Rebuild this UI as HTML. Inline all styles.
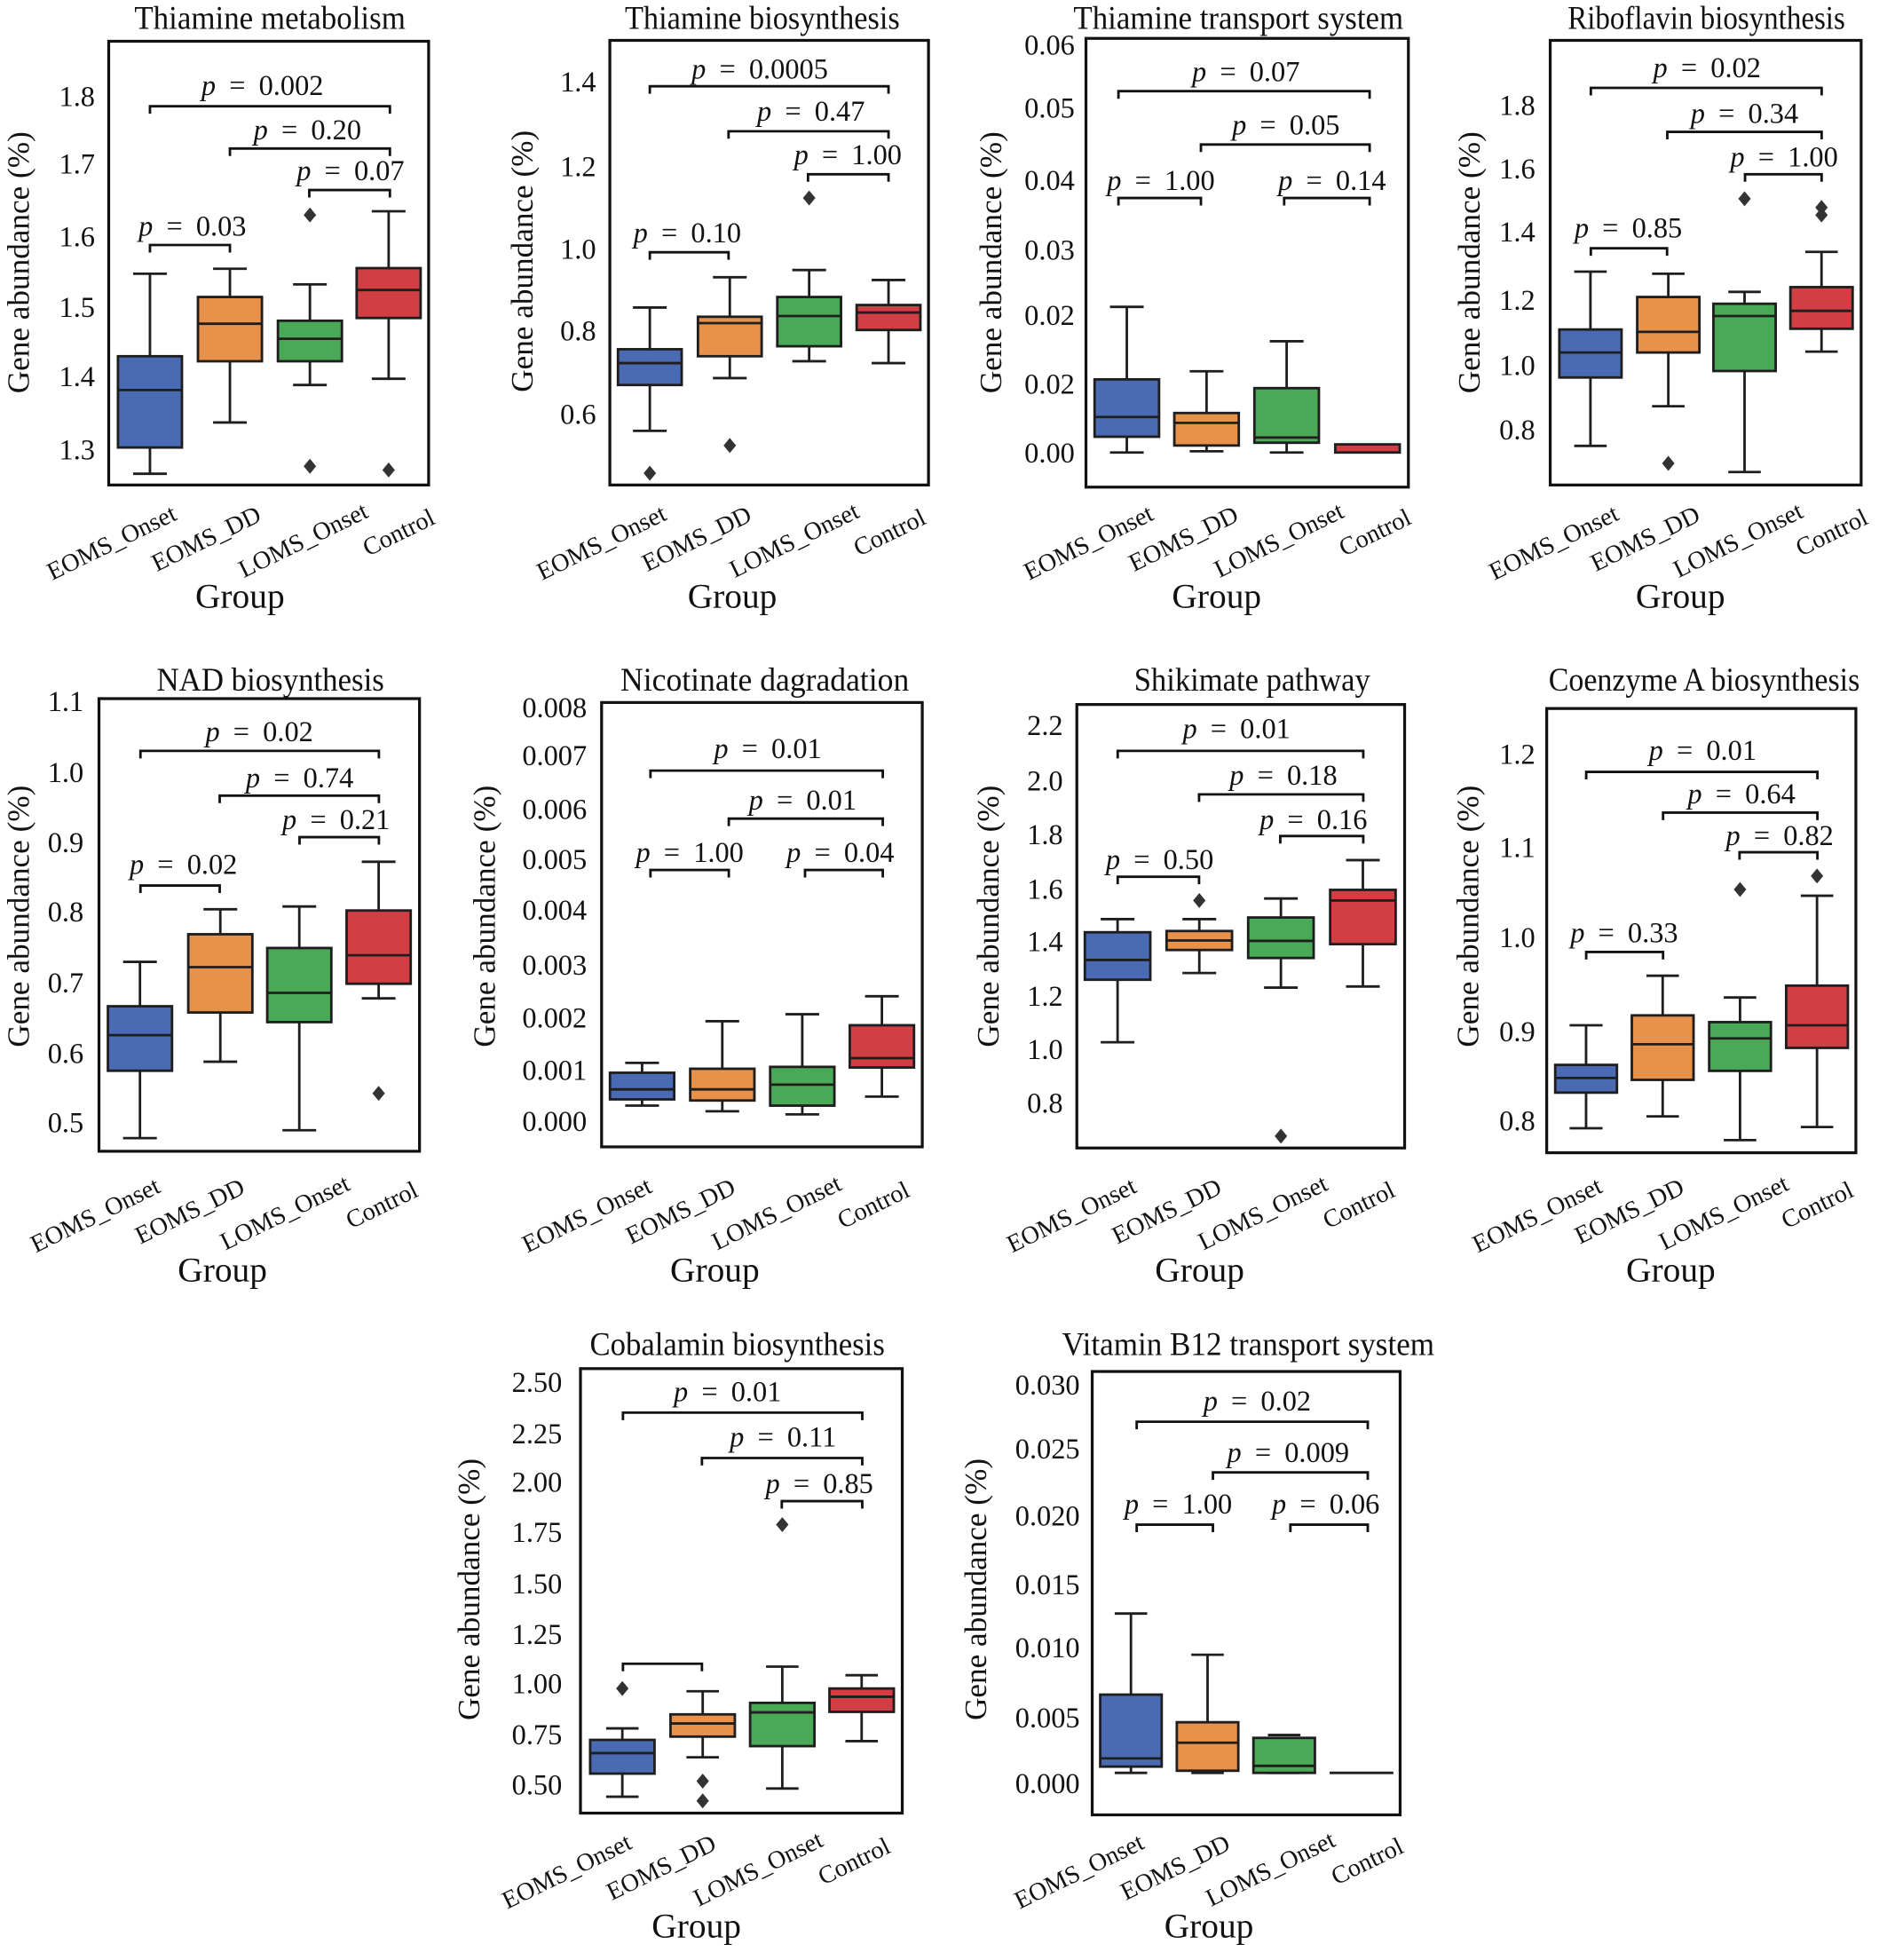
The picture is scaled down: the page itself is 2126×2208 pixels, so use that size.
<!DOCTYPE html>
<html>
<head>
<meta charset="utf-8">
<style>
html,body{margin:0;padding:0;background:#fff;}
svg{display:block;}
text{font-family:"Liberation Serif","Times New Roman",serif;fill:#111;}
.t{font-size:26px;text-anchor:middle;}
.tk{font-size:23px;text-anchor:end;}
.pv{font-size:23px;text-anchor:middle;word-spacing:5px;}
.xl{font-size:20px;text-anchor:middle;}
.yl{font-size:25px;text-anchor:middle;}
.gr{font-size:28px;text-anchor:middle;}
.fr{fill:none;stroke:#111;stroke-width:2.3;}
.ln{fill:none;stroke:#1e1e1e;stroke-width:2;}
.bk{fill:none;stroke:#111;stroke-width:2;}
.bx{stroke:#1e1e1e;stroke-width:2;}
.B{fill:#4a6ab3;}.O{fill:#e8914a;}.G{fill:#49a956;}.R{fill:#d13f45;}
.od{fill:#333;}
</style>
</head>
<body>
<svg width="2126" height="2208" viewBox="0 0 1510 1568" preserveAspectRatio="none" xmlns="http://www.w3.org/2000/svg">
<rect x="0" y="0" width="1510" height="1568" fill="#fff"/>

<!-- ================= PANEL 1 ================= -->
<text class="t" x="216" y="23" textLength="217" lengthAdjust="spacingAndGlyphs">Thiamine metabolism</text>
<rect class="fr" x="87" y="33" width="256" height="355"/>
<text class="tk" x="76" y="85">1.8</text>
<text class="tk" x="76" y="139">1.7</text>
<text class="tk" x="76" y="197">1.6</text>
<text class="tk" x="76" y="253.5">1.5</text>
<text class="tk" x="76" y="309">1.4</text>
<text class="tk" x="76" y="367.6">1.3</text>
<text class="yl" transform="translate(23,210) rotate(-90)">Gene abundance (%)</text>
<path class="ln" d="M120 219V285M120 358V379M106.5 219H133.5M106.5 379H133.5"/>
<rect class="bx B" x="94.4" y="285" width="51.2" height="73"/>
<path class="ln" d="M94.4 312H145.6"/>
<path class="ln" d="M184 215V237.6M184 289V338M170.5 215H197.5M170.5 338H197.5"/>
<rect class="bx O" x="158.4" y="237.6" width="51.2" height="51.4"/>
<path class="ln" d="M158.4 259H209.6"/>
<path class="ln" d="M248 227.5V256.6M248 289V308M234.5 227.5H261.5M234.5 308H261.5"/>
<rect class="bx G" x="222.4" y="256.6" width="51.2" height="32.4"/>
<path class="ln" d="M222.4 271H273.6"/>
<path class="ln" d="M311 169V214.5M311 254.4V303M297.5 169H324.5M297.5 303H324.5"/>
<rect class="bx R" x="285.4" y="214.5" width="51.2" height="39.9"/>
<path class="ln" d="M285.4 232H336.6"/>
<path class="od" d="M248 166l5 6-5 6-5-6zM248 367l5 6-5 6-5-6zM311 370l5 6-5 6-5-6z"/>
<path class="bk" d="M120 91V85H312V91M184 124.8V118.8H312V124.8M247.5 158V152H312V158M120 202V196H184V202"/>
<text class="pv" x="210" y="76"><tspan font-style="italic">p</tspan> = 0.002</text>
<text class="pv" x="246" y="111.5"><tspan font-style="italic">p</tspan> = 0.20</text>
<text class="pv" x="280.5" y="144"><tspan font-style="italic">p</tspan> = 0.07</text>
<text class="pv" x="154" y="188.5"><tspan font-style="italic">p</tspan> = 0.03</text>
<text class="xl" transform="translate(89.3,434) rotate(-26)" y="6.5">EOMS_Onset</text>
<text class="xl" transform="translate(165,431) rotate(-26)" y="6.5">EOMS_DD</text>
<text class="xl" transform="translate(242.6,432) rotate(-26)" y="6.5">LOMS_Onset</text>
<text class="xl" transform="translate(319,426) rotate(-26)" y="6.5">Control</text>
<text class="gr" x="192" y="486">Group</text>

<!-- ================= PANEL 2 ================= -->
<text class="t" x="610" y="23" textLength="220" lengthAdjust="spacingAndGlyphs">Thiamine biosynthesis</text>
<rect class="fr" x="488" y="32.3" width="255" height="355.7"/>
<text class="tk" x="477" y="73">1.4</text>
<text class="tk" x="477" y="141">1.2</text>
<text class="tk" x="477" y="207">1.0</text>
<text class="tk" x="477" y="272.5">0.8</text>
<text class="tk" x="477" y="339">0.6</text>
<text class="yl" transform="translate(426,209) rotate(-90)">Gene abundance (%)</text>
<path class="ln" d="M520 246V279.4M520 308V344.7M506.5 246H533.5M506.5 344.7H533.5"/>
<rect class="bx B" x="494.5" y="279.4" width="51" height="28.6"/>
<path class="ln" d="M494.5 290.5H545.5"/>
<path class="ln" d="M584 221.8V253.4M584 285V302.5M570.5 221.8H597.5M570.5 302.5H597.5"/>
<rect class="bx O" x="558.5" y="253.4" width="51" height="31.6"/>
<path class="ln" d="M558.5 258.5H609.5"/>
<path class="ln" d="M647.5 216V237.6M647.5 277V289M634 216H661M634 289H661"/>
<rect class="bx G" x="622" y="237.6" width="51" height="39.4"/>
<path class="ln" d="M622 252.8H673"/>
<path class="ln" d="M711 224V244M711 264V290.5M697.5 224H724.5M697.5 290.5H724.5"/>
<rect class="bx R" x="685.5" y="244" width="51" height="20"/>
<path class="ln" d="M685.5 250H736.5"/>
<path class="od" d="M520 372.6l5 6-5 6-5-6zM584 350.4l5 6-5 6-5-6zM647.5 152.4l5 6-5 6-5-6z"/>
<path class="bk" d="M520 75V69H711V75M583 111V105H711V111M646.6 145.4V139.4H711V145.4M520 207.8V201.8H583V207.8"/>
<text class="pv" x="608" y="62.7"><tspan font-style="italic">p</tspan> = 0.0005</text>
<text class="pv" x="649" y="96.6"><tspan font-style="italic">p</tspan> = 0.47</text>
<text class="pv" x="678.5" y="131.5"><tspan font-style="italic">p</tspan> = 1.00</text>
<text class="pv" x="550" y="194"><tspan font-style="italic">p</tspan> = 0.10</text>
<text class="xl" transform="translate(481.3,434) rotate(-26)" y="6.5">EOMS_Onset</text>
<text class="xl" transform="translate(557.5,431) rotate(-26)" y="6.5">EOMS_DD</text>
<text class="xl" transform="translate(635.5,432) rotate(-26)" y="6.5">LOMS_Onset</text>
<text class="xl" transform="translate(711.8,426) rotate(-26)" y="6.5">Control</text>
<text class="gr" x="586" y="486">Group</text>

<!-- ================= PANEL 3 ================= -->
<text class="t" x="991" y="23" textLength="264" lengthAdjust="spacingAndGlyphs">Thiamine transport system</text>
<rect class="fr" x="869" y="30.7" width="258" height="359"/>
<text class="tk" x="860" y="43.8">0.06</text>
<text class="tk" x="860" y="94">0.05</text>
<text class="tk" x="860" y="152">0.04</text>
<text class="tk" x="860" y="207.6">0.03</text>
<text class="tk" x="860" y="260">0.02</text>
<text class="tk" x="860" y="315">0.02</text>
<text class="tk" x="860" y="370">0.00</text>
<text class="yl" transform="translate(801,210) rotate(-90)">Gene abundance (%)</text>
<path class="ln" d="M901.7 245.5V303.5M901.7 349.4V362M888.2 245.5H915.2M888.2 362H915.2"/>
<rect class="bx B" x="875.9" y="303.5" width="51.6" height="45.9"/>
<path class="ln" d="M875.9 333.6H927.5"/>
<path class="ln" d="M965.5 297V330.4M965.5 356.4V361M952 297H979M952 361H979"/>
<rect class="bx O" x="939.7" y="330.4" width="51.6" height="26"/>
<path class="ln" d="M939.7 338.3H991.3"/>
<path class="ln" d="M1029.6 273V310.5M1029.6 354.2V362M1016.1 273H1043.1M1016.1 362H1043.1"/>
<rect class="bx G" x="1003.8" y="310.5" width="51.6" height="43.7"/>
<path class="ln" d="M1003.8 350H1055.4"/>
<rect class="bx R" x="1068.5" y="355.5" width="51.6" height="6.5"/>
<path class="bk" d="M895 79V72.9H1096V79M961 121.6V115.6H1096V121.6M895 164.4V158.4H961V164.4M1027.6 164.4V158.4H1096V164.4"/>
<text class="pv" x="997" y="65"><tspan font-style="italic">p</tspan> = 0.07</text>
<text class="pv" x="1029" y="107.7"><tspan font-style="italic">p</tspan> = 0.05</text>
<text class="pv" x="929" y="152"><tspan font-style="italic">p</tspan> = 1.00</text>
<text class="pv" x="1066" y="152"><tspan font-style="italic">p</tspan> = 0.14</text>
<text class="xl" transform="translate(871,434) rotate(-26)" y="6.5">EOMS_Onset</text>
<text class="xl" transform="translate(947,431) rotate(-26)" y="6.5">EOMS_DD</text>
<text class="xl" transform="translate(1023.4,432) rotate(-26)" y="6.5">LOMS_Onset</text>
<text class="xl" transform="translate(1100.2,426) rotate(-26)" y="6.5">Control</text>
<text class="gr" x="973.6" y="486">Group</text>

<!-- ================= PANEL 4 ================= -->
<text class="t" x="1365.5" y="23" textLength="222" lengthAdjust="spacingAndGlyphs">Riboflavin biosynthesis</text>
<rect class="fr" x="1240.5" y="32.3" width="248.8" height="355.7"/>
<text class="tk" x="1228.5" y="92">1.8</text>
<text class="tk" x="1228.5" y="142.6">1.6</text>
<text class="tk" x="1228.5" y="193.3">1.4</text>
<text class="tk" x="1228.5" y="247.8">1.2</text>
<text class="tk" x="1228.5" y="300">1.0</text>
<text class="tk" x="1228.5" y="351.7">0.8</text>
<text class="yl" transform="translate(1184,210) rotate(-90)">Gene abundance (%)</text>
<path class="ln" d="M1272.7 217.3V263.6M1272.7 302V356.7M1259.7 217.3H1285.7M1259.7 356.7H1285.7"/>
<rect class="bx B" x="1247.8" y="263.6" width="49.8" height="38.4"/>
<path class="ln" d="M1247.8 282H1297.6"/>
<path class="ln" d="M1335 219V237.6M1335 282V325M1322 219H1348M1322 325H1348"/>
<rect class="bx O" x="1310.1" y="237.6" width="49.8" height="44.4"/>
<path class="ln" d="M1310.1 265.5H1359.9"/>
<path class="ln" d="M1396 233.5V243M1396 296.8V377.6M1383 233.5H1409M1383 377.6H1409"/>
<rect class="bx G" x="1371.1" y="243" width="49.8" height="53.8"/>
<path class="ln" d="M1371.1 252.8H1420.9"/>
<path class="ln" d="M1457.6 201.5V229.7M1457.6 263V281.3M1444.6 201.5H1470.6M1444.6 281.3H1470.6"/>
<rect class="bx R" x="1432.7" y="229.7" width="49.8" height="33.3"/>
<path class="ln" d="M1432.7 248.7H1482.5"/>
<path class="od" d="M1335 364.7l5 6-5 6-5-6zM1396 153l5 6-5 6-5-6zM1457.6 160l5 6-5 6-5-6zM1457.6 166l5 6-5 6-5-6z"/>
<path class="bk" d="M1273 76.3V70.3H1457.7V76.3M1334.2 111.5V105.5H1457.7V111.5M1396.4 145.4V139.4H1457.7V145.4M1273 204.6V198.6H1334V204.6"/>
<text class="pv" x="1366" y="61.8"><tspan font-style="italic">p</tspan> = 0.02</text>
<text class="pv" x="1396" y="98.2"><tspan font-style="italic">p</tspan> = 0.34</text>
<text class="pv" x="1427.7" y="133"><tspan font-style="italic">p</tspan> = 1.00</text>
<text class="pv" x="1303" y="190"><tspan font-style="italic">p</tspan> = 0.85</text>
<text class="xl" transform="translate(1243.3,434) rotate(-26)" y="6.5">EOMS_Onset</text>
<text class="xl" transform="translate(1316.5,431) rotate(-26)" y="6.5">EOMS_DD</text>
<text class="xl" transform="translate(1390.8,432) rotate(-26)" y="6.5">LOMS_Onset</text>
<text class="xl" transform="translate(1465.7,426) rotate(-26)" y="6.5">Control</text>
<text class="gr" x="1344.7" y="486">Group</text>

<!-- ================= PANEL 5 ================= -->
<text class="t" x="216.4" y="552.5" textLength="182" lengthAdjust="spacingAndGlyphs">NAD biosynthesis</text>
<rect class="fr" x="79.2" y="558.9" width="256.5" height="362.1"/>
<text class="tk" x="66.9" y="569">1.1</text>
<text class="tk" x="66.9" y="625.5">1.0</text>
<text class="tk" x="66.9" y="681.9">0.9</text>
<text class="tk" x="66.9" y="737.3">0.8</text>
<text class="tk" x="66.9" y="794">0.7</text>
<text class="tk" x="66.9" y="850.4">0.6</text>
<text class="tk" x="66.9" y="905.8">0.5</text>
<text class="yl" transform="translate(23,733) rotate(-90)">Gene abundance (%)</text>
<path class="ln" d="M112 769.5V805M112 856.6V910.5M98.5 769.5H125.5M98.5 910.5H125.5"/>
<rect class="bx B" x="86.35" y="805" width="51.3" height="51.6"/>
<path class="ln" d="M86.35 828.1H137.65"/>
<path class="ln" d="M176.3 727.4V747.4M176.3 810V849.4M162.8 727.4H189.8M162.8 849.4H189.8"/>
<rect class="bx O" x="150.65" y="747.4" width="51.3" height="62.6"/>
<path class="ln" d="M150.65 773.7H201.95"/>
<path class="ln" d="M239.5 725.2V758.4M239.5 817.7V904.2M226 725.2H253M226 904.2H253"/>
<rect class="bx G" x="213.85" y="758.4" width="51.3" height="59.3"/>
<path class="ln" d="M213.85 794.3H265.15"/>
<path class="ln" d="M303 689.4V728.4M303 787V798.7M289.5 689.4H316.5M289.5 798.7H316.5"/>
<rect class="bx R" x="277.35" y="728.4" width="51.3" height="58.6"/>
<path class="ln" d="M277.35 764.2H328.65"/>
<path class="od" d="M303 868.7l5 6-5 6-5-6z"/>
<path class="bk" d="M112.4 606.7V600.7H303.2V606.7M175.8 642.5V636.5H303.2V642.5M239.7 675.7V669.7H303.2V675.7M112.4 714.4V708.4H175.8V714.4"/>
<text class="pv" x="207.5" y="593"><tspan font-style="italic">p</tspan> = 0.02</text>
<text class="pv" x="239.8" y="630"><tspan font-style="italic">p</tspan> = 0.74</text>
<text class="pv" x="269" y="663.4"><tspan font-style="italic">p</tspan> = 0.21</text>
<text class="pv" x="146.8" y="699"><tspan font-style="italic">p</tspan> = 0.02</text>
<text class="xl" transform="translate(76.2,972) rotate(-26)" y="6.5">EOMS_Onset</text>
<text class="xl" transform="translate(151.9,969) rotate(-26)" y="6.5">EOMS_DD</text>
<text class="xl" transform="translate(228,970) rotate(-26)" y="6.5">LOMS_Onset</text>
<text class="xl" transform="translate(305.5,964) rotate(-26)" y="6.5">Control</text>
<text class="gr" x="178" y="1025">Group</text>

<!-- ================= PANEL 6 ================= -->
<text class="t" x="612" y="552.5" textLength="231" lengthAdjust="spacingAndGlyphs">Nicotinate dagradation</text>
<rect class="fr" x="481.4" y="562" width="256.6" height="355.5"/>
<text class="tk" x="469.6" y="573.8">0.008</text>
<text class="tk" x="469.6" y="612.2">0.007</text>
<text class="tk" x="469.6" y="655">0.006</text>
<text class="tk" x="469.6" y="695.2">0.005</text>
<text class="tk" x="469.6" y="735.7">0.004</text>
<text class="tk" x="469.6" y="779.8">0.003</text>
<text class="tk" x="469.6" y="821.9">0.002</text>
<text class="tk" x="469.6" y="864">0.001</text>
<text class="tk" x="469.6" y="904.9">0.000</text>
<text class="yl" transform="translate(396,733) rotate(-90)">Gene abundance (%)</text>
<path class="ln" d="M513.8 850.3V858.2M513.8 879.5V884.5M500.3 850.3H527.3M500.3 884.5H527.3"/>
<rect class="bx B" x="488.1" y="858.2" width="51.4" height="21.3"/>
<path class="ln" d="M488.1 871.5H539.5"/>
<path class="ln" d="M578 817V855M578 880.4V889M564.5 817H591.5M564.5 889H591.5"/>
<rect class="bx O" x="552.3" y="855" width="51.4" height="25.4"/>
<path class="ln" d="M552.3 871.5H603.7"/>
<path class="ln" d="M642 811.4V853.5M642 884.5V891.5M628.5 811.4H655.5M628.5 891.5H655.5"/>
<rect class="bx G" x="616.3" y="853.5" width="51.4" height="31"/>
<path class="ln" d="M616.3 867.7H667.7"/>
<path class="ln" d="M705.7 797V820.2M705.7 854V877.3M692.2 797H719.2M692.2 877.3H719.2"/>
<rect class="bx R" x="680" y="820.2" width="51.4" height="33.8"/>
<path class="ln" d="M680 846.5H731.4"/>
<path class="bk" d="M520.5 622.5V616.5H706.4V622.5M583.2 660.9V654.9H706.4V660.9M520.5 702V696H583.2V702M644.2 702V696H706.4V702"/>
<text class="pv" x="614.4" y="606.4"><tspan font-style="italic">p</tspan> = 0.01</text>
<text class="pv" x="642.3" y="647.6"><tspan font-style="italic">p</tspan> = 0.01</text>
<text class="pv" x="552" y="689.7"><tspan font-style="italic">p</tspan> = 1.00</text>
<text class="pv" x="672.5" y="689.7"><tspan font-style="italic">p</tspan> = 0.04</text>
<text class="xl" transform="translate(469.6,972) rotate(-26)" y="6.5">EOMS_Onset</text>
<text class="xl" transform="translate(544.6,969) rotate(-26)" y="6.5">EOMS_DD</text>
<text class="xl" transform="translate(621.4,970) rotate(-26)" y="6.5">LOMS_Onset</text>
<text class="xl" transform="translate(698.9,964) rotate(-26)" y="6.5">Control</text>
<text class="gr" x="572" y="1025">Group</text>

<!-- ================= PANEL 7 ================= -->
<text class="t" x="1002" y="552.5" textLength="189" lengthAdjust="spacingAndGlyphs">Shikimate pathway</text>
<rect class="fr" x="861.7" y="563.6" width="262.3" height="354.8"/>
<text class="tk" x="850.6" y="588">2.2</text>
<text class="tk" x="850.6" y="632.4">2.0</text>
<text class="tk" x="850.6" y="675.2">1.8</text>
<text class="tk" x="850.6" y="718.9">1.6</text>
<text class="tk" x="850.6" y="761">1.4</text>
<text class="tk" x="850.6" y="804.5">1.2</text>
<text class="tk" x="850.6" y="847.2">1.0</text>
<text class="tk" x="850.6" y="890">0.8</text>
<text class="yl" transform="translate(799,733) rotate(-90)">Gene abundance (%)</text>
<path class="ln" d="M894.3 735.3V745.8M894.3 783.8V833.8M880.8 735.3H907.8M880.8 833.8H907.8"/>
<rect class="bx B" x="868.1" y="745.8" width="52.4" height="38"/>
<path class="ln" d="M868.1 768H920.5"/>
<path class="ln" d="M959.7 735.3V744.8M959.7 760V778.4M946.2 735.3H973.2M946.2 778.4H973.2"/>
<rect class="bx O" x="933.5" y="744.8" width="52.4" height="15.2"/>
<path class="ln" d="M933.5 752.4H985.9"/>
<path class="ln" d="M1025 718.8V734M1025 766.4V790.1M1011.5 718.8H1038.5M1011.5 790.1H1038.5"/>
<rect class="bx G" x="998.8" y="734" width="52.4" height="32.4"/>
<path class="ln" d="M998.8 752.7H1051.2"/>
<path class="ln" d="M1090.6 688.1V711.9M1090.6 755.3V789.2M1077.1 688.1H1104.1M1077.1 789.2H1104.1"/>
<rect class="bx R" x="1064.4" y="711.9" width="52.4" height="43.4"/>
<path class="ln" d="M1064.4 720.4H1116.8"/>
<path class="od" d="M959.7 714.4l5 6-5 6-5-6zM1025 902.9l5 6-5 6-5-6z"/>
<path class="bk" d="M894.4 606.7V600.7H1090.9V606.7M959.5 641.5V635.5H1090.9V641.5M1024.5 674.8V668.8H1090.9V674.8M894.4 707.4V701.4H959.5V707.4"/>
<text class="pv" x="989.5" y="590.5"><tspan font-style="italic">p</tspan> = 0.01</text>
<text class="pv" x="1027" y="627.6"><tspan font-style="italic">p</tspan> = 0.18</text>
<text class="pv" x="1051" y="663.4"><tspan font-style="italic">p</tspan> = 0.16</text>
<text class="pv" x="928" y="695.1"><tspan font-style="italic">p</tspan> = 0.50</text>
<text class="xl" transform="translate(857.4,972) rotate(-26)" y="6.5">EOMS_Onset</text>
<text class="xl" transform="translate(933.6,969) rotate(-26)" y="6.5">EOMS_DD</text>
<text class="xl" transform="translate(1010.5,970) rotate(-26)" y="6.5">LOMS_Onset</text>
<text class="xl" transform="translate(1087.3,964) rotate(-26)" y="6.5">Control</text>
<text class="gr" x="960" y="1025">Group</text>

<!-- ================= PANEL 8 ================= -->
<text class="t" x="1363.7" y="552.5" textLength="249" lengthAdjust="spacingAndGlyphs">Coenzyme A biosynthesis</text>
<rect class="fr" x="1237.7" y="566.8" width="247.4" height="355.4"/>
<text class="tk" x="1228.5" y="611.2">1.2</text>
<text class="tk" x="1228.5" y="685.7">1.1</text>
<text class="tk" x="1228.5" y="757.9">1.0</text>
<text class="tk" x="1228.5" y="833">0.9</text>
<text class="tk" x="1228.5" y="904.3">0.8</text>
<text class="yl" transform="translate(1183,733) rotate(-90)">Gene abundance (%)</text>
<path class="ln" d="M1269.2 820.2V851.9M1269.2 874.1V902.6M1256 820.2H1282.4M1256 902.6H1282.4"/>
<rect class="bx B" x="1244.5" y="851.9" width="49.4" height="22.2"/>
<path class="ln" d="M1244.5 862.4H1293.9"/>
<path class="ln" d="M1330.5 780.6V812.3M1330.5 863.9V893.1M1317.5 780.6H1343.5M1317.5 893.1H1343.5"/>
<rect class="bx O" x="1305.8" y="812.3" width="49.4" height="51.6"/>
<path class="ln" d="M1305.8 835.4H1355.2"/>
<path class="ln" d="M1392.4 798V817.7M1392.4 856.7V912.1M1379.4 798H1405.4M1379.4 912.1H1405.4"/>
<rect class="bx G" x="1367.7" y="817.7" width="49.4" height="39"/>
<path class="ln" d="M1367.7 830.7H1417.1"/>
<path class="ln" d="M1454 716.6V788.5M1454 838.3V901.6M1441 716.6H1467M1441 901.6H1467"/>
<rect class="bx R" x="1429.3" y="788.5" width="49.4" height="49.8"/>
<path class="ln" d="M1429.3 820.2H1478.7"/>
<path class="od" d="M1392.4 705.6l5 6-5 6-5-6zM1454 694.8l5 6-5 6-5-6z"/>
<path class="bk" d="M1269.3 623.5V617.5H1454.3V623.5M1330.8 656.1V650.1H1454.3V656.1M1392 687.8V681.8H1454.3V687.8M1269.3 767.6V761.6H1330.8V767.6"/>
<text class="pv" x="1362.5" y="608"><tspan font-style="italic">p</tspan> = 0.01</text>
<text class="pv" x="1393.6" y="642.8"><tspan font-style="italic">p</tspan> = 0.64</text>
<text class="pv" x="1424.2" y="676.1"><tspan font-style="italic">p</tspan> = 0.82</text>
<text class="pv" x="1299.7" y="753.7"><tspan font-style="italic">p</tspan> = 0.33</text>
<text class="xl" transform="translate(1230.1,972) rotate(-26)" y="6.5">EOMS_Onset</text>
<text class="xl" transform="translate(1303.8,969) rotate(-26)" y="6.5">EOMS_DD</text>
<text class="xl" transform="translate(1379.3,970) rotate(-26)" y="6.5">LOMS_Onset</text>
<text class="xl" transform="translate(1454.2,964) rotate(-26)" y="6.5">Control</text>
<text class="gr" x="1337" y="1025">Group</text>

<!-- ================= PANEL 9 ================= -->
<text class="t" x="590" y="1084" textLength="236" lengthAdjust="spacingAndGlyphs">Cobalamin biosynthesis</text>
<rect class="fr" x="464.5" y="1094.9" width="257.5" height="355.6"/>
<text class="tk" x="449.8" y="1113.4">2.50</text>
<text class="tk" x="449.8" y="1154.6">2.25</text>
<text class="tk" x="449.8" y="1193.5">2.00</text>
<text class="tk" x="449.8" y="1233.6">1.75</text>
<text class="tk" x="449.8" y="1274.8">1.50</text>
<text class="tk" x="449.8" y="1315.3">1.25</text>
<text class="tk" x="449.8" y="1354.5">1.00</text>
<text class="tk" x="449.8" y="1395.6">0.75</text>
<text class="tk" x="449.8" y="1435.5">0.50</text>
<text class="yl" transform="translate(383.6,1271.5) rotate(-90)">Gene abundance (%)</text>
<path class="ln" d="M498 1382.7V1391.9M498 1418.9V1437.4M485 1382.7H511M485 1437.4H511"/>
<rect class="bx B" x="472.25" y="1391.9" width="51.5" height="27"/>
<path class="ln" d="M472.25 1402.5H523.75"/>
<path class="ln" d="M562.3 1353V1371.5M562.3 1389.3V1405.8M549.3 1353H575.3M549.3 1405.8H575.3"/>
<rect class="bx O" x="536.55" y="1371.5" width="51.5" height="17.8"/>
<path class="ln" d="M536.55 1378.8H588.05"/>
<path class="ln" d="M626 1333.3V1362.3M626 1396.9V1430.8M613 1333.3H639M613 1430.8H639"/>
<rect class="bx G" x="600.25" y="1362.3" width="51.5" height="34.6"/>
<path class="ln" d="M600.25 1369.9H651.75"/>
<path class="ln" d="M689.5 1340.2V1350.8M689.5 1369.5V1392.9M676.5 1340.2H702.5M676.5 1392.9H702.5"/>
<rect class="bx R" x="663.75" y="1350.8" width="51.5" height="18.7"/>
<path class="ln" d="M663.75 1357.4H715.25"/>
<path class="od" d="M498 1344.8l5 6-5 6-5-6zM562.3 1418.9l5 6-5 6-5-6zM562.3 1434.7l5 6-5 6-5-6zM626 1213.7l5 6-5 6-5-6z"/>
<path class="bk" d="M498.5 1136.1V1130.1H690V1136.1M561.7 1172.4V1166.4H690V1172.4M625.6 1206.9V1200.9H690V1206.9M498.5 1337V1331H561.7V1337"/>
<text class="pv" x="582.2" y="1120.9"><tspan font-style="italic">p</tspan> = 0.01</text>
<text class="pv" x="626.6" y="1157.1"><tspan font-style="italic">p</tspan> = 0.11</text>
<text class="pv" x="655.7" y="1194.3"><tspan font-style="italic">p</tspan> = 0.85</text>
<text class="xl" transform="translate(453.5,1497) rotate(-26)" y="6.5">EOMS_Onset</text>
<text class="xl" transform="translate(529.1,1494) rotate(-26)" y="6.5">EOMS_DD</text>
<text class="xl" transform="translate(606.6,1495) rotate(-26)" y="6.5">LOMS_Onset</text>
<text class="xl" transform="translate(683.4,1489) rotate(-26)" y="6.5">Control</text>
<text class="gr" x="557.3" y="1550">Group</text>

<!-- ================= PANEL 10 ================= -->
<text class="t" x="998.8" y="1084" textLength="298" lengthAdjust="spacingAndGlyphs">Vitamin B12 transport system</text>
<rect class="fr" x="874" y="1097.2" width="246.4" height="354.7"/>
<text class="tk" x="864.1" y="1115.7">0.030</text>
<text class="tk" x="864.1" y="1166.8">0.025</text>
<text class="tk" x="864.1" y="1220.5">0.020</text>
<text class="tk" x="864.1" y="1275.5">0.015</text>
<text class="tk" x="864.1" y="1325.8">0.010</text>
<text class="tk" x="864.1" y="1381.8">0.005</text>
<text class="tk" x="864.1" y="1434.5">0.000</text>
<text class="yl" transform="translate(789,1271.5) rotate(-90)">Gene abundance (%)</text>
<path class="ln" d="M905 1290.8V1355.7M905 1413.3V1418.3M892 1290.8H918M892 1418.3H918"/>
<rect class="bx B" x="880.4" y="1355.7" width="49.2" height="57.6"/>
<path class="ln" d="M880.4 1406.7H929.6"/>
<path class="ln" d="M966.3 1323.8V1377.8M953.3 1323.8H979.3M953.3 1418.3H979.3"/>
<rect class="bx O" x="941.7" y="1377.8" width="49.2" height="38.8"/>
<path class="ln" d="M941.7 1394.2H990.9"/>
<path class="ln" d="M1014.6 1388H1040.6M1014.6 1418.3H1040.6"/>
<rect class="bx G" x="1003" y="1390.3" width="49.2" height="28"/>
<path class="ln" d="M1003 1412.7H1052.2"/>
<path class="ln" d="M1064 1418.3H1115"/>
<path class="bk" d="M909.6 1143.4V1137.4H1094.5V1143.4M970.6 1183.9V1177.9H1094.5V1183.9M909.6 1225.7V1219.7H970.6V1225.7M1032.6 1225.7V1219.7H1094.5V1225.7"/>
<text class="pv" x="1006" y="1128.5"><tspan font-style="italic">p</tspan> = 0.02</text>
<text class="pv" x="1030.8" y="1169.6"><tspan font-style="italic">p</tspan> = 0.009</text>
<text class="pv" x="942.9" y="1210.8"><tspan font-style="italic">p</tspan> = 1.00</text>
<text class="pv" x="1060.9" y="1210.8"><tspan font-style="italic">p</tspan> = 0.06</text>
<text class="xl" transform="translate(863.5,1497) rotate(-26)" y="6.5">EOMS_Onset</text>
<text class="xl" transform="translate(940.4,1494) rotate(-26)" y="6.5">EOMS_DD</text>
<text class="xl" transform="translate(1016.6,1495) rotate(-26)" y="6.5">LOMS_Onset</text>
<text class="xl" transform="translate(1094,1489) rotate(-26)" y="6.5">Control</text>
<text class="gr" x="967.4" y="1550">Group</text>
</svg>
</body>
</html>
